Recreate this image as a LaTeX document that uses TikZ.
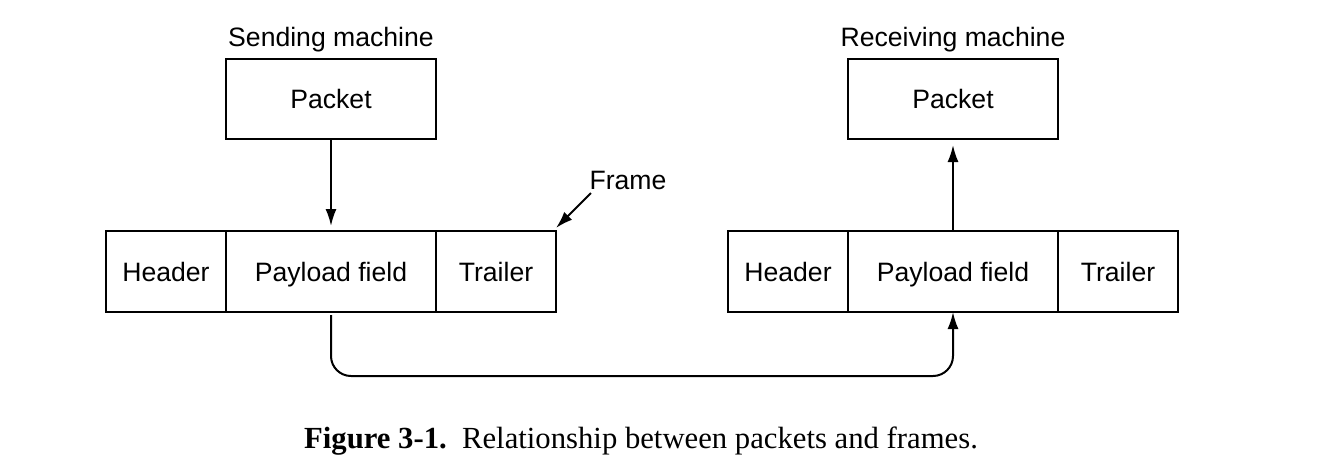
\documentclass[tikz,border=0pt]{standalone}
\usepackage{fontspec}
\setmainfont{Liberation Serif}
\newfontfamily\helv{Liberation Sans}
\usetikzlibrary{arrows.meta}
\begin{document}
\begin{tikzpicture}[x=1pt,y=-1pt,
  txt/.style={font=\helv\fontsize{26.6}{30}\selectfont,text height=19pt,text depth=0pt},
  cell/.style={txt,draw,line width=2pt,inner sep=0pt,outer sep=0pt,minimum height=81pt},
  pkt/.style={txt,draw,line width=2pt,inner sep=0pt,outer sep=0pt,minimum width=210pt,minimum height=80pt},
  lbl/.style={txt,inner sep=0pt},
  conn/.style={line width=2pt,-{Latex[length=17pt,width=11pt]}}]
\useasboundingbox (0,0) rectangle (1320,467);
% left side
\node[lbl] (ls) at (331,37) {Sending machine};
\node[pkt] (lp) at (331,99) {Packet};
\node[cell,minimum width=120pt] (lh) at (166,271.5) {Header};
\node[cell,minimum width=210pt] (lf) at (331,271.5) {Payload field};
\node[cell,minimum width=120pt] (lt) at (496,271.5) {Trailer};
% right side
\node[lbl] (rs) at (953,37) {Receiving machine};
\node[pkt] (rp) at (953,99) {Packet};
\node[cell,minimum width=120pt] (rh) at (788,271.5) {Header};
\node[cell,minimum width=210pt] (rf) at (953,271.5) {Payload field};
\node[cell,minimum width=120pt] (rt) at (1118,271.5) {Trailer};
% frame label
\node[lbl] (fl) at (628,180) {Frame};
\coordinate (fa) at (591,193);
\coordinate (bot) at (641,376);
% connectors
\draw[conn,shorten >=5pt] (lp.south) -- (lf.north);
\draw[conn,shorten >=6pt] (rf.north) -- (rp.south);
\draw[conn] (fa) -- ([yshift=3pt]lt.north east);
\draw[conn,rounded corners=20pt] ([yshift=-3pt]lf.south) |- (bot) -| (rf.south);
% caption
\node[inner sep=0pt,font=\fontsize{30.7}{34}\selectfont] (cap) at (641,441) {\textbf{Figure 3-1.}\ \ Relationship between packets and frames.};
\end{tikzpicture}
\end{document}
